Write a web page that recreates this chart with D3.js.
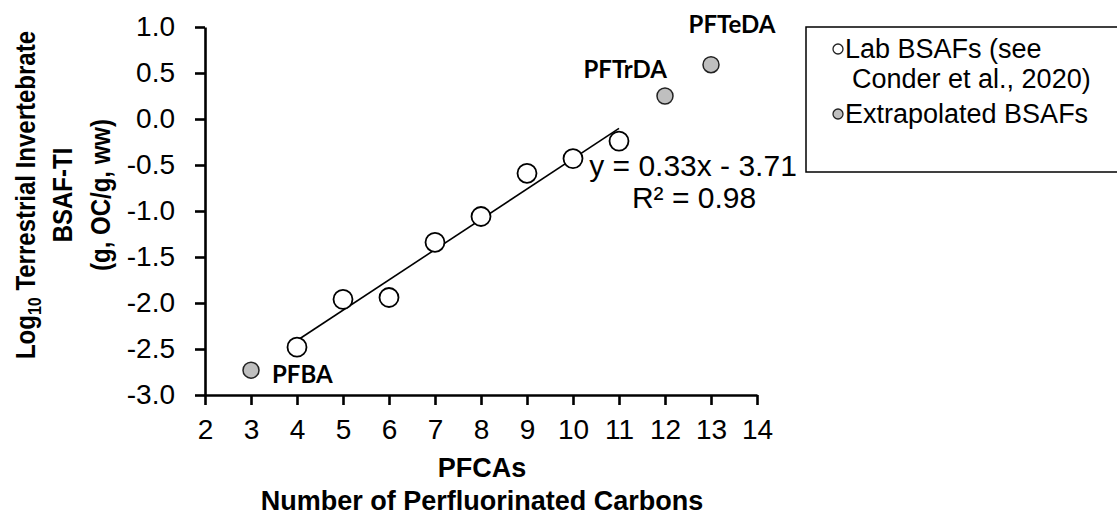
<!DOCTYPE html>
<html><head><meta charset="utf-8">
<script src="https://cdn.jsdelivr.net/npm/d3@7"></script>
<style>body{margin:0;background:#fff;} svg{display:block;}</style>
</head><body>
<svg id="c" width="1117" height="527"></svg>
<script>
// ---- data ----
const labCarbons = [4, 5, 6, 7, 8, 9, 10, 11];
const labBSAF    = [-2.48, -1.96, -1.94, -1.34, -1.06, -0.59, -0.43, -0.24];
const extCarbons = [3, 12, 13];
const extBSAF    = [-2.73, 0.25, 0.59];
const extNames   = ["PFBA", "PFTrDA", "PFTeDA"];
const xTicks = [2, 3, 4, 5, 6, 7, 8, 9, 10, 11, 12, 13, 14];
const yTicks = [-3.0, -2.5, -2.0, -1.5, -1.0, -0.5, 0.0, 0.5, 1.0];
const eqText = "y = 0.33x - 3.71";
const r2Text = "R\u00B2 = 0.98";
const legendLines = [["Lab BSAFs (see", "Conder et al., 2020)"], ["Extrapolated BSAFs"]];
const xTitle = ["PFCAs", "Number of Perfluorinated Carbons"];
const yTitle2 = "BSAF-TI";
const yTitle3 = "(g, OC/g, ww)";

// ---- setup ----
const FONT = "'Liberation Sans', Arial, sans-serif";
const svg = d3.select("#c");
const x = d3.scaleLinear().domain([2, 14]).range([205, 757]);
const y = d3.scaleLinear().domain([-3, 1]).range([395, 27]);

function txt(g, px, py, s, o) {
  o = o || {};
  const t = g.append("text")
    .attr("transform", `translate(${px},${py})` + (o.sx ? ` scale(${o.sx},1)` : "") + (o.rot ? ` rotate(${o.rot})` : ""))
    .attr("font-family", o.family || FONT)
    .attr("font-size", o.size || 24)
    .attr("font-weight", o.bold ? "bold" : "normal")
    .attr("text-anchor", o.anchor || "start")
    .attr("fill", "#000");
  if (s !== null) t.text(s);
  return t;
}

// ---- axes ----
const gx = svg.append("g").attr("transform", `translate(0,${y(-3)})`)
  .call(d3.axisBottom(x).tickValues(xTicks).tickSize(10).tickSizeOuter(0).tickPadding(14).tickFormat(d => d));
const gy = svg.append("g").attr("transform", `translate(${x(2)},0)`)
  .call(d3.axisLeft(y).tickValues(yTicks).tickSize(10).tickSizeOuter(0).tickPadding(20).tickFormat(d => d.toFixed(1)));
[gx, gy].forEach(g => {
  g.select(".domain").attr("stroke", "#000").attr("stroke-width", 2.6);
  g.selectAll(".tick line").attr("stroke", "#000").attr("stroke-width", 2.6);
  g.selectAll(".tick text").attr("font-family", FONT).attr("font-size", 28).attr("fill", "#000");
});

// ---- regression line (least squares from lab data) ----
const mx = d3.mean(labCarbons), my = d3.mean(labBSAF);
const sxy = d3.sum(labCarbons, (c, i) => (c - mx) * (labBSAF[i] - my));
const sxx = d3.sum(labCarbons, c => (c - mx) * (c - mx));
const slope = sxy / sxx, icpt = my - slope * mx;
const x0 = d3.min(labCarbons), x1 = d3.max(labCarbons);
svg.append("line")
  .attr("x1", x(x0)).attr("y1", y(slope * x0 + icpt))
  .attr("x2", x(x1)).attr("y2", y(slope * x1 + icpt))
  .attr("stroke", "#000").attr("stroke-width", 1.6);

// ---- points ----
svg.append("g").selectAll("circle").data(labCarbons).join("circle")
  .attr("cx", d => x(d)).attr("cy", (d, i) => y(labBSAF[i])).attr("r", 9.5)
  .attr("fill", "#fff").attr("stroke", "#000").attr("stroke-width", 1.8);
svg.append("g").selectAll("circle").data(extCarbons).join("circle")
  .attr("cx", d => x(d)).attr("cy", (d, i) => y(extBSAF[i])).attr("r", 8)
  .attr("fill", "#bfbfbf").attr("stroke", "#222").attr("stroke-width", 1.5);

// ---- point labels ----
const lblOff = [[21, 13, "start"], [2, -18, "end"], [21, -32, "middle"]];
extNames.forEach((n, i) => {
  txt(svg, x(extCarbons[i]) + lblOff[i][0], y(extBSAF[i]) + lblOff[i][1], n,
    { size: 24, bold: true, anchor: lblOff[i][2], family: "Lato, 'Open Sans', sans-serif" });
});

// ---- equation ----
txt(svg, 693, 176, eqText, { size: 30, anchor: "middle" });
txt(svg, 694, 208, r2Text, { size: 30, anchor: "middle" });

// ---- axis titles ----
txt(svg, 482, 477, xTitle[0], { size: 27, bold: true, anchor: "middle" });
txt(svg, 482, 510, xTitle[1], { size: 27, bold: true, anchor: "middle" });
const ySX = 1.15;
const yt1 = txt(svg, 35, 195, null, { size: 24, bold: true, anchor: "middle", rot: -90, sx: ySX });
yt1.append("tspan").text("Log");
yt1.append("tspan").text("10").attr("font-size", 16).attr("dy", 5);
yt1.append("tspan").text(" Terrestrial Invertebrate").attr("dy", -5);
txt(svg, 72, 195, yTitle2, { size: 24, bold: true, anchor: "middle", rot: -90, sx: ySX });
txt(svg, 110, 195, yTitle3, { size: 24, bold: true, anchor: "middle", rot: -90, sx: ySX });

// ---- legend ----
const lg = svg.append("g");
lg.append("rect").attr("x", 806).attr("y", 27).attr("width", 330).attr("height", 145)
  .attr("fill", "#fff").attr("stroke", "#000").attr("stroke-width", 1.5);
const legFill = ["#fff", "#bfbfbf"];
const legY = [49, 114];
legendLines.forEach((lines, i) => {
  lg.append("circle").attr("cx", 838).attr("cy", legY[i]).attr("r", 5)
    .attr("fill", legFill[i]).attr("stroke", "#222").attr("stroke-width", 1.3);
  lines.forEach((s, j) => {
    txt(lg, j === 0 ? 845 : 852, legY[i] + 9 + j * 30, s, { size: 27 });
  });
});
</script>
</body></html>
